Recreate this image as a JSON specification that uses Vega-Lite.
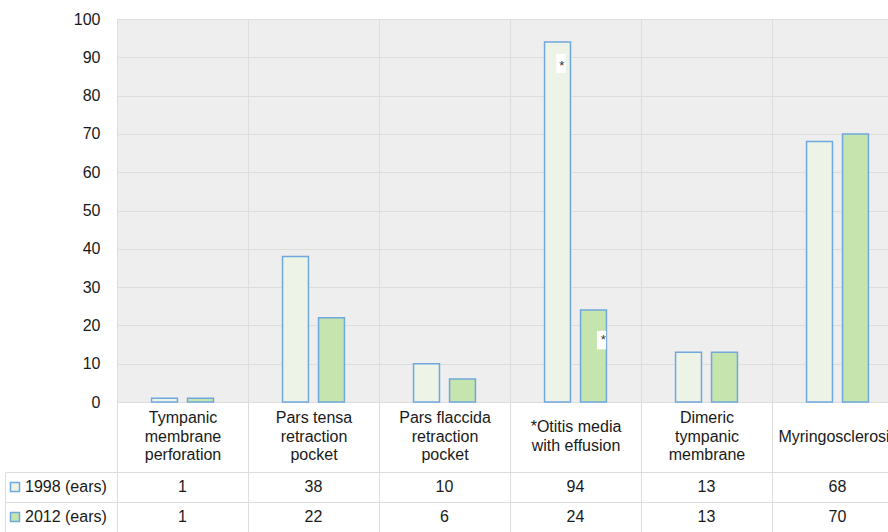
{
  "$schema": "https://vega.github.io/schema/vega-lite/v6.json",
  "width": 771,
  "height": 383,
  "autosize": {"type": "none"},
  "padding": {"left": 117, "top": 19, "right": 0, "bottom": 130},
  "background": "#ffffff",
  "config": {"font": "Liberation Sans", "view": {"fill": "#eeeeee", "stroke": null}},
  "data": {
    "values": [
      {"category": "Tympanic membrane perforation", "year": "1998", "value": 1},
      {"category": "Tympanic membrane perforation", "year": "2012", "value": 1},
      {"category": "Pars tensa retraction pocket", "year": "1998", "value": 38},
      {"category": "Pars tensa retraction pocket", "year": "2012", "value": 22},
      {"category": "Pars flaccida retraction pocket", "year": "1998", "value": 10},
      {"category": "Pars flaccida retraction pocket", "year": "2012", "value": 6},
      {"category": "*Otitis media with effusion", "year": "1998", "value": 94},
      {"category": "*Otitis media with effusion", "year": "2012", "value": 24},
      {"category": "Dimeric tympanic membrane", "year": "1998", "value": 13},
      {"category": "Dimeric tympanic membrane", "year": "2012", "value": 13},
      {"category": "Myringosclerosis", "year": "1998", "value": 68},
      {"category": "Myringosclerosis", "year": "2012", "value": 70}
    ]
  },
  "layer": [
    {
      "encoding": {
        "x": {
          "field": "category",
          "type": "nominal",
          "sort": null,
          "scale": {
            "domain": ["Tympanic membrane perforation", "Pars tensa retraction pocket", "Pars flaccida retraction pocket", "*Otitis media with effusion", "Dimeric tympanic membrane", "Myringosclerosis"],
            "range": [0, 786],
            "paddingInner": 0,
            "paddingOuter": 0
          },
          "axis": {
            "title": null,
            "orient": "bottom",
            "domain": false,
            "ticks": true,
            "tickBand": "extent",
            "tickSize": 130,
            "tickColor": "#dddddd",
            "tickWidth": 1,
            "grid": true,
            "gridColor": "#dddddd",
            "gridWidth": 1,
            "labelAngle": 0,
            "labelFontSize": 16,
            "labelColor": "#1a1a1a",
            "labelBaseline": "middle",
            "labelPadding": -114.5,
            "labelLineHeight": 9.25,
            "labelOverlap": false,
            "labelBound": false,
            "labelLimit": 0,
            "labelExpr": "datum.value == 'Tympanic membrane perforation' ? ['Tympanic','\u200b','membrane','\u200b','perforation'] : datum.value == 'Pars tensa retraction pocket' ? ['Pars tensa','\u200b','retraction','\u200b','pocket'] : datum.value == 'Pars flaccida retraction pocket' ? ['Pars flaccida','\u200b','retraction','\u200b','pocket'] : datum.value == '*Otitis media with effusion' ? ['\u200b','*Otitis media','\u200b','with effusion'] : datum.value == 'Dimeric tympanic membrane' ? ['Dimeric','\u200b','tympanic','\u200b','membrane'] : ['\u200b','\u200b',datum.label]"
          }
        },
        "y": {
          "field": "value",
          "type": "quantitative",
          "scale": {"domain": [0, 100]},
          "axis": {
            "title": null,
            "values": [0, 10, 20, 30, 40, 50, 60, 70, 80, 90, 100],
            "tickCount": 20,
            "labelOverlap": false,
            "domain": false,
            "ticks": false,
            "grid": true,
            "gridColor": "#dddddd",
            "gridWidth": 1,
            "labelFontSize": 16,
            "labelColor": "#1a1a1a",
            "labelPadding": 17
          }
        }
      },
      "layer": [
        {
          "mark": {"type": "bar", "stroke": "#6fa8dc", "strokeWidth": 1.5},
          "encoding": {
            "xOffset": {"field": "year", "type": "nominal", "scale": {"domain": ["1998", "2012"], "paddingInner": 0.28, "paddingOuter": 0.96}},
            "fill": {
              "field": "year",
              "type": "nominal",
              "scale": {"domain": ["1998", "2012"], "range": ["#edf4e7", "#c5e4ae"]},
              "legend": {
                "orient": "none",
                "legendX": -110,
                "legendY": 460,
                "title": null,
                "padding": 0,
                "direction": "vertical",
                "labelExpr": "datum.label + ' (ears)'",
                "labelFontSize": 16,
                "labelColor": "#1a1a1a",
                "labelOffset": 2,
                "symbolType": "square",
                "symbolSize": 81,
                "symbolStrokeColor": "#6fa8dc",
                "symbolStrokeWidth": 1.5,
                "symbolOpacity": 1,
                "rowPadding": 14
              }
            }
          }
        },
        {
          "transform": [{"filter": "datum.category == '*Otitis media with effusion' && datum.year == '1998'"}],
          "mark": {"type": "point", "shape": "M-0.5,-1H0.5V1H-0.5Z", "filled": true, "fill": "#ffffff", "opacity": 1, "size": 361, "strokeWidth": 0, "xOffset": -14.5, "yOffset": 21.5}
        },
        {
          "transform": [{"filter": "datum.category == '*Otitis media with effusion' && datum.year == '1998'"}],
          "mark": {"type": "text", "fontSize": 13, "color": "#333333", "baseline": "middle", "dx": -13.7, "dy": 24},
          "encoding": {"text": {"value": "*"}}
        },
        {
          "transform": [{"filter": "datum.category == '*Otitis media with effusion' && datum.year == '2012'"}],
          "mark": {"type": "point", "shape": "M-0.5,-1H0.5V1H-0.5Z", "filled": true, "fill": "#ffffff", "opacity": 1, "size": 340, "strokeWidth": 0, "xOffset": 26, "yOffset": 30}
        },
        {
          "transform": [{"filter": "datum.category == '*Otitis media with effusion' && datum.year == '2012'"}],
          "mark": {"type": "text", "fontSize": 13, "color": "#333333", "baseline": "middle", "dx": 27.8, "dy": 30},
          "encoding": {"text": {"value": "*"}}
        }
      ]
    },
    {
      "mark": {"type": "text", "fontSize": 16, "color": "#1a1a1a", "baseline": "middle"},
      "encoding": {
        "x": {"field": "category", "type": "nominal"},
        "y": {
          "field": "year",
          "type": "nominal",
          "scale": {"domain": ["1998", "2012"], "range": [453, 513], "paddingInner": 0, "paddingOuter": 0},
          "axis": {
            "orient": "left",
            "title": null,
            "labels": false,
            "offset": 112,
            "domain": true,
            "domainColor": "#dddddd",
            "ticks": true,
            "tickSize": -112,
            "tickColor": "#dddddd",
            "tickBand": "extent",
            "grid": true,
            "gridColor": "#dddddd"
          }
        },
        "text": {"field": "value", "type": "quantitative"}
      }
    }
  ],
  "resolve": {"scale": {"y": "independent"}}
}
